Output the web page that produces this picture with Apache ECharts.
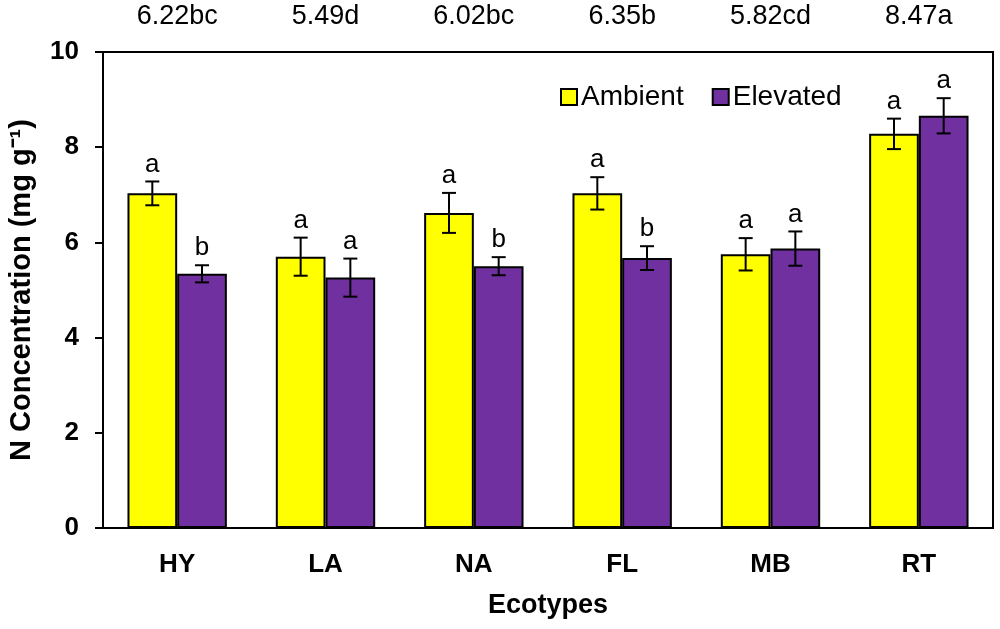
<!DOCTYPE html>
<html lang="en">
<head>
    <meta charset="UTF-8">
    <title>N Concentration</title>
    <script src="https://cdn.jsdelivr.net/npm/echarts@6/dist/echarts.min.js"></script>
</head>
<body style="margin:0">
<div id="chartmain" style="width: 1000px; height: 629px;"></div>
<script type="text/javascript">
    // data
    var ecotypes = ['HY', 'LA', 'NA', 'FL', 'MB', 'RT'];
    var meanLabels = ['6.22bc', '5.49d', '6.02bc', '6.35b', '5.82cd', '8.47a'];
    var ambient = [7.03, 5.70, 6.62, 7.03, 5.75, 8.28];
    var ambientErr = [0.25, 0.40, 0.42, 0.34, 0.34, 0.32];
    var ambientLetters = ['a', 'a', 'a', 'a', 'a', 'a'];
    var elevated = [5.34, 5.26, 5.50, 5.67, 5.87, 8.66];
    var elevatedErr = [0.18, 0.40, 0.19, 0.25, 0.36, 0.37];
    var elevatedLetters = ['b', 'a', 'b', 'b', 'a', 'a'];
    var yTicks = [0, 2, 4, 6, 8, 10];

    var font = 'Arial, "Liberation Sans", sans-serif';

    function errData(vals, errs) {
        var out = [];
        for (var i = 0; i < vals.length; i++) {
            out.push([i, vals[i], errs[i]]);
        }
        return out;
    }

    // error bars + significance letters, offset to sit over each bar
    function makeErrRender(side, letters) {
        return function (params, api) {
            var i = api.value(0);
            var v = api.value(1);
            var e = api.value(2);
            var band = api.size([1, 0])[0];
            var barW = band * 0.335;
            var c = api.coord([i, v]);
            var x = c[0] + side * barW / 2;
            var top = api.coord([i, v + e])[1];
            var bot = api.coord([i, v - e])[1];
            var cap = 7;
            var st = {stroke: '#000', lineWidth: 2};
            return {
                type: 'group',
                children: [
                    {type: 'line', shape: {x1: x, y1: top, x2: x, y2: bot}, style: st},
                    {type: 'line', shape: {x1: x - cap, y1: top, x2: x + cap, y2: top}, style: st},
                    {type: 'line', shape: {x1: x - cap, y1: bot, x2: x + cap, y2: bot}, style: st},
                    {type: 'text', style: {
                        text: letters[params.dataIndex], x: x, y: top - 4,
                        align: 'center', verticalAlign: 'bottom',
                        font: '26px ' + font, fill: '#000'
                    }}
                ]
            };
        };
    }

    var myChart = echarts.init(document.getElementById('chartmain'));
    var option = {
        backgroundColor: '#fff',
        animation: false,
        grid: {
            left: 103, right: 7, top: 52, bottom: 101,
            outerBoundsMode: 'none',
            show: true, borderColor: '#000', borderWidth: 2, backgroundColor: 'transparent'
        },
        legend: {
            data: ['Ambient', 'Elevated'],
            icon: 'rect',
            left: 555, top: 78,
            itemWidth: 16, itemHeight: 16, itemGap: 28,
            textStyle: {fontFamily: font, fontSize: 28, color: '#000', padding: [0, 0, 0, -1]}
        },
        xAxis: [{
            type: 'category',
            data: ecotypes,
            axisLine: {lineStyle: {color: '#000', width: 2}},
            axisTick: {show: false},
            axisLabel: {fontFamily: font, fontSize: 26, fontWeight: 'bold', color: '#000', margin: 24},
            name: 'Ecotypes',
            nameLocation: 'middle',
            nameGap: 64,
            nameTextStyle: {fontFamily: font, fontSize: 27, fontWeight: 'bold', color: '#000'}
        }, {
            type: 'category',
            position: 'top',
            data: meanLabels,
            axisLine: {show: false},
            axisTick: {show: false},
            axisLabel: {fontFamily: font, fontSize: 27, color: '#000', margin: 22}
        }],
        yAxis: {
            type: 'value',
            min: yTicks[0], max: yTicks[yTicks.length - 1], interval: 2,
            axisLine: {show: true, lineStyle: {color: '#000', width: 2}},
            axisTick: {show: true, length: 8, lineStyle: {color: '#000', width: 2}},
            splitLine: {show: false},
            axisLabel: {fontFamily: font, fontSize: 26, fontWeight: 'bold', color: '#000', margin: 24},
            name: 'N Concentration (mg g\u207B\u00B9)',
            nameLocation: 'middle',
            nameGap: 67,
            nameTextStyle: {fontFamily: font, fontSize: 29, fontWeight: 'bold', color: '#000'}
        },
        series: [{
            name: 'Ambient',
            type: 'bar',
            data: ambient,
            barGap: '0%',
            barCategoryGap: '33%',
            itemStyle: {color: '#FFFF00', borderColor: '#000', borderWidth: 2}
        }, {
            name: 'Elevated',
            type: 'bar',
            data: elevated,
            itemStyle: {color: '#7030A0', borderColor: '#000', borderWidth: 2}
        }, {
            type: 'custom',
            renderItem: makeErrRender(-1, ambientLetters),
            data: errData(ambient, ambientErr),
            z: 5
        }, {
            type: 'custom',
            renderItem: makeErrRender(1, elevatedLetters),
            data: errData(elevated, elevatedErr),
            z: 5
        }]
    };
    myChart.setOption(option);
</script>
</body>
</html>
